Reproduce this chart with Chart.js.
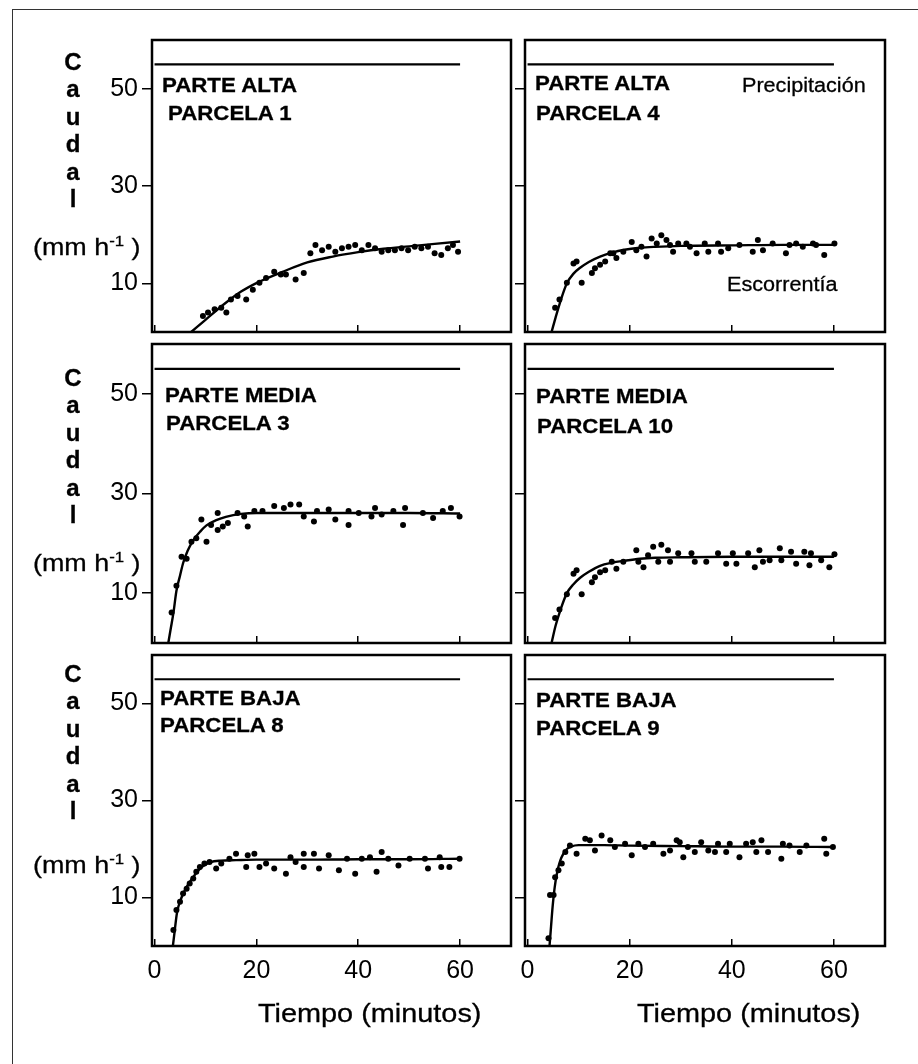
<!DOCTYPE html>
<html>
<head>
<meta charset="utf-8">
<script src="https://cdn.jsdelivr.net/npm/chart.js@4/dist/chart.umd.min.js"></script>
<style>
  body { margin: 0; background: #fff; }
  #page { position: relative; width: 918px; height: 1064px; overflow: hidden; background: #fff; font-family: "Liberation Sans", Arial, sans-serif; color: #000; }
  #frame { position: absolute; left: 12px; top: 9px; width: 920px; height: 1070px; border-left: 1.5px solid #333; border-top: 1.5px solid #333; }
  canvas { position: absolute; }
  .txt { position: absolute; white-space: nowrap; transform-origin: 0 0; -webkit-text-stroke: 0.3px #000; }
</style>
</head>
<body>
<div id="page"><div id="frame"></div></div>
<script>
/* Caudal de escorrentía por parcela — 6 paneles */

const xTicks = [0, 20, 40, 60];
const yTicks = [10, 30, 50];
const precipT = [0, 60];
const precipQ = [55, 55];
const zonas = ['PARTE ALTA', 'PARTE ALTA', 'PARTE MEDIA', 'PARTE MEDIA', 'PARTE BAJA', 'PARTE BAJA'];
const parcelas = ['PARCELA 1', 'PARCELA 4', 'PARCELA 3', 'PARCELA 10', 'PARCELA 8', 'PARCELA 9'];

// observed runoff [minutes, mm/h]
const obs1 = [[9.5,3.3],[10.5,4.0],[11.8,4.7],[13.1,5.0],[14.1,4.0],[15.0,6.7],[16.3,7.4],[18.0,6.7],[19.3,8.7],[20.6,10.1],[21.9,11.1],[23.5,12.4],[24.8,11.8],[25.8,11.8],[27.7,10.8],[29.3,12.1],[30.6,16.2],[31.6,17.9],[32.9,16.8],[34.2,17.5],[35.5,16.5],[36.8,17.2],[38.1,17.5],[39.4,17.9],[40.7,16.8],[42.0,17.9],[43.3,17.2],[44.6,16.5],[45.9,16.8],[47.2,16.8],[48.5,17.2],[49.8,16.8],[51.1,17.5],[52.4,17.2],[53.7,17.5],[55.0,16.2],[56.3,15.8],[57.6,17.2],[58.6,17.9],[59.6,16.5]];
const obs4 = [[5.4,5.0],[6.25,6.7],[7.7,10.1],[9.0,14.1],[9.6,14.5],[10.6,10.1],[12.6,12.1],[13.2,13.1],[14.2,13.8],[15.2,14.5],[16.2,16.2],[16.8,16.2],[17.4,15.2],[18.75,16.5],[20.4,18.5],[21.3,16.8],[22.3,17.5],[23.3,15.5],[24.3,19.2],[25.3,18.2],[26.2,19.9],[27.2,18.9],[27.9,17.9],[28.5,16.5],[29.5,18.2],[31.1,18.2],[31.8,17.5],[33.1,16.2],[34.7,18.2],[35.4,16.5],[37.3,18.2],[37.9,16.5],[39.3,17.2],[41.5,17.9],[44.1,16.5],[45.1,18.9],[46.1,16.8],[48.0,18.2],[50.6,16.2],[51.3,17.9],[52.6,18.2],[53.9,17.5],[55.9,18.2],[56.5,17.9],[58.1,15.8],[60.1,18.2]];
const obs3 = [[3.35,6.1],[4.3,11.5],[5.3,17.3],[6.3,16.9],[7.25,20.3],[8.2,21.0],[9.2,24.8],[10.2,20.3],[11.1,23.7],[12.4,26.1],[12.4,22.7],[13.4,23.4],[14.4,24.1],[16.3,26.1],[17.6,25.4],[18.3,23.4],[19.6,26.5],[21.2,26.5],[23.5,27.5],[25.4,27.1],[26.7,27.8],[28.4,27.8],[29.3,25.4],[31.3,24.4],[31.9,26.5],[34.2,26.8],[35.5,24.8],[38.1,26.5],[38.1,23.7],[40.1,26.1],[42.6,25.4],[43.3,27.1],[44.6,25.8],[46.9,26.5],[48.8,23.7],[49.2,27.1],[52.7,26.1],[54.7,25.1],[56.6,26.5],[58.2,27.1],[59.9,25.4]];
const obs10 = [[5.4,5.0],[6.25,6.7],[7.7,9.8],[9.0,13.9],[9.6,14.6],[10.6,9.8],[12.6,12.2],[13.2,13.2],[14.2,14.2],[15.2,14.6],[16.5,16.3],[17.4,14.9],[18.75,16.3],[21.3,18.6],[21.7,16.3],[22.7,15.2],[23.6,17.6],[24.6,19.3],[25.6,16.3],[26.2,19.7],[27.5,18.6],[27.9,16.3],[29.5,18.0],[32.1,18.0],[32.75,16.3],[35.0,16.3],[37.3,18.0],[38.9,15.9],[40.2,18.0],[40.9,15.9],[43.2,18.0],[44.5,15.2],[45.4,18.6],[46.1,16.3],[47.4,16.6],[49.4,19.0],[49.7,16.6],[51.6,18.3],[52.6,15.9],[54.2,18.3],[55.2,15.6],[55.5,18.0],[57.5,16.6],[59.1,15.2],[60.1,17.8]];
const obs8 = [[3.7,3.3],[4.3,7.4],[5.0,9.1],[5.6,10.8],[6.3,11.8],[6.9,12.9],[7.6,13.9],[8.2,15.3],[8.9,16.3],[9.8,17.0],[10.8,17.3],[12.1,16.0],[13.1,17.0],[14.7,18.0],[16.0,19.0],[18.0,16.3],[18.3,18.7],[19.6,19.0],[20.6,16.3],[21.9,17.0],[23.5,16.0],[25.8,14.9],[26.7,18.3],[27.7,17.3],[29.3,19.0],[29.3,16.3],[31.3,19.0],[32.3,16.0],[34.2,18.7],[36.2,15.6],[37.8,18.0],[39.4,14.9],[40.7,18.0],[42.3,18.3],[43.6,15.3],[44.6,19.4],[45.9,18.0],[47.9,16.6],[50.1,18.0],[53.1,18.0],[53.7,16.0],[56.0,18.3],[56.3,16.3],[57.9,16.3],[59.9,18.0]];
const obs9 = [[4.1,1.6],[4.4,10.5],[5.1,10.5],[5.4,14.2],[6.05,15.6],[6.7,17.0],[7.4,19.4],[8.3,20.7],[9.6,19.0],[11.3,22.1],[12.2,21.8],[13.2,19.7],[14.5,22.8],[16.2,21.8],[17.1,20.4],[19.1,21.1],[20.4,18.7],[21.7,21.1],[23.0,20.4],[24.6,21.1],[26.6,19.0],[27.9,19.7],[29.2,21.8],[29.8,21.4],[30.5,18.3],[31.4,20.4],[32.75,19.4],[34.0,21.4],[35.4,19.7],[36.7,19.4],[37.3,21.1],[38.9,19.4],[39.6,21.1],[41.5,18.3],[42.8,21.1],[44.1,21.4],[44.8,19.4],[45.8,21.8],[47.1,19.4],[49.7,18.0],[50.0,21.1],[51.3,20.7],[53.3,19.4],[54.6,20.7],[58.1,22.1],[58.5,19.0],[59.8,20.4]];

// fitted curves
const fit1 = [[7.2,0],[10,2.5],[14,6],[17,8.3],[20.5,10.3],[25,12.3],[30,14.3],[35,15.5],[40,16.4],[45,17.1],[50,17.6],[55,18.1],[60,18.6]];
const fit4 = [[4.7,0],[5.5,3],[6.5,6.5],[7.7,10],[9,12],[10.3,13.2],[12,14.4],[14.2,15.5],[16.5,16.3],[19,16.9],[22,17.3],[25,17.5],[30,17.7],[40,17.8],[50,17.9],[60,17.9]];
const fit3 = [[2.7,0],[3.2,3],[3.7,6],[4.3,10.5],[5,13.5],[5.6,16],[6.5,18.5],[7.6,20.6],[9,22.4],[10.2,23.6],[12,24.6],[14,25.3],[17,25.9],[20,26.1],[30,26.1],[40,26.1],[50,26.1],[60,26.0]];
const fit10 = [[4.7,0],[5.5,3.5],[6.5,6.8],[7.7,10],[9,11.8],[10.3,13.1],[12,14.3],[14.2,15.5],[16.5,16.1],[19,16.5],[22,16.9],[25,17.1],[30,17.2],[40,17.3],[50,17.3],[60,17.3]];
const fit8 = [[3.6,0],[4,3.5],[4.4,6.8],[5.3,10],[6.2,12],[7,13.3],[8,14.8],[9,16],[10,16.8],[11,17.3],[13,17.6],[16,17.7],[20,17.8],[30,17.8],[40,17.9],[50,17.9],[60,18.0]];
const fit9 = [[4.3,0],[4.6,4],[4.9,8],[5.3,12],[5.8,15.2],[6.4,17.6],[7,19],[7.7,20],[8.5,20.5],[10,20.8],[15,20.8],[20,20.7],[30,20.6],[40,20.5],[50,20.5],[60,20.4]];

const observed = [obs1, obs4, obs3, obs10, obs8, obs9];
const fitted = [fit1, fit4, fit3, fit10, fit8, fit9];

// panel boxes on the page: [left, top, right, bottom]
const boxes = [
  [152, 40, 511, 332], [525, 40, 885, 332],
  [152, 344, 511, 643], [525, 344, 885, 643],
  [152, 655, 511, 946], [525, 655, 885, 946],
];
const PADL = 70, PADT = 6, PADR = 6, PADB = 50;
const FONT = '"Liberation Sans", Arial, sans-serif';

const page = document.getElementById('page');

function addText(html, x, base, size, bold, sx) {
  const d = document.createElement('div');
  d.className = 'txt';
  d.innerHTML = html;
  d.style.left = x + 'px';
  d.style.top = (base - 0.8465 * size) + 'px';
  d.style.fontSize = size + 'px';
  d.style.lineHeight = size + 'px';
  d.style.fontWeight = bold ? 'bold' : 'normal';
  d.style.transform = 'scaleX(' + (sx || 1) + ')';
  page.appendChild(d);
  return d;
}

const boxPlugin = {
  id: 'box',
  afterDraw(chart) {
    const a = chart.chartArea, ctx = chart.ctx;
    ctx.save();
    ctx.strokeStyle = '#000';
    ctx.lineWidth = 2.5;
    ctx.strokeRect(a.left, a.top, a.right - a.left, a.bottom - a.top);
    ctx.restore();
  }
};

const toPts = arr => arr.map(p => ({ x: p[0], y: p[1] }));

boxes.forEach((b, i) => {
  const leftCol = i % 2 === 0;
  const bottomRow = i >= 4;
  const canvas = document.createElement('canvas');
  const w = b[2] - b[0] + PADL + PADR, h = b[3] - b[1] + PADT + PADB;
  canvas.width = w; canvas.height = h;
  canvas.style.left = (b[0] - PADL) + 'px';
  canvas.style.top = (b[1] - PADT) + 'px';
  page.appendChild(canvas);

  new Chart(canvas, {
    type: 'scatter',
    data: {
      datasets: [
        { data: precipT.map((t, k) => ({ x: t, y: precipQ[k] })), showLine: true, borderColor: '#000', borderWidth: 2.2, pointRadius: 0 },
        { data: toPts(fitted[i]), showLine: true, borderColor: '#000', borderWidth: 2.4, pointRadius: 0, cubicInterpolationMode: 'monotone' },
        { data: toPts(observed[i]), pointRadius: 3, backgroundColor: '#000', borderWidth: 0 },
      ]
    },
    options: {
      responsive: false,
      animation: false,
      layout: { padding: { left: 0, top: PADT, right: PADR, bottom: 0 } },
      plugins: { legend: { display: false }, tooltip: { enabled: false } },
      scales: {
        x: {
          type: 'linear', min: -0.5, max: 70,
          afterBuildTicks: s => { s.ticks = xTicks.map(v => ({ value: v })); },
          afterFit: s => { s.height = PADB; s.paddingLeft = 0; s.paddingRight = 0; },
          border: { display: false },
          grid: { drawOnChartArea: false, drawTicks: true, tickLength: -7, color: '#000', lineWidth: 1.5 },
          ticks: { display: bottomRow, color: '#000', font: { family: FONT, size: 25 }, padding: 17, maxRotation: 0, autoSkip: false }
        },
        y: {
          type: 'linear', min: 0, max: 60,
          afterBuildTicks: s => { s.ticks = yTicks.map(v => ({ value: v })); },
          afterFit: s => { s.width = PADL; s.paddingTop = 0; s.paddingBottom = 0; },
          border: { display: false },
          grid: { drawOnChartArea: false, drawTicks: true, tickLength: 10, color: '#000', lineWidth: 1.5 },
          ticks: { display: leftCol, color: '#000', font: { family: FONT, size: 25 }, padding: 4 }
        }
      }
    },
    plugins: [boxPlugin]
  });
});

// panel labels
const labelPos = [[162, 92, 168, 120], [535, 90, 536, 120], [165, 402, 166, 430], [536, 403, 537, 433], [160, 705, 160, 732], [536, 707, 536, 735]];
labelPos.forEach((p, i) => {
  addText(zonas[i], p[0], p[1], 21, true, 1.06);
  addText(parcelas[i], p[2], p[3], 21, true, 1.06);
});
addText('Precipitación', 742, 92, 20, false, 1.08);
addText('Escorrentía', 727, 291, 20, false, 1.08);

// stacked y-axis title on the left column
[70, 386, 682].forEach((c, r) => {
  'Caudal'.split('').forEach((ch, k) => {
    const d = addText(ch, 62, c + k * 27.5, 24, true, 1);
    d.style.width = '22px';
    d.style.textAlign = 'center';
  });
  addText('(mm h<span style="font-size:15px;vertical-align:9px">-1</span> )', 33, [249, 565, 867][r], 24, false, 1.12);
});

addText('Tiempo (minutos)', 258, 1022, 26, false, 1.11);
addText('Tiempo (minutos)', 637, 1022, 26, false, 1.11);
</script>
</body>
</html>
